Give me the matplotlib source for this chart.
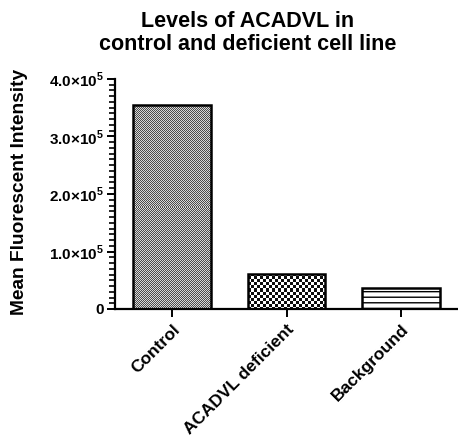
import numpy as np
import matplotlib
matplotlib.use("Agg")
import matplotlib.pyplot as plt
from matplotlib.ticker import MultipleLocator, FuncFormatter

categories = ["Control", "ACADVL deficient", "Background"]
values = [3.55e5, 0.61e5, 0.365e5]
yticks = [0, 1e5, 2e5, 3e5, 4e5]
title = "Levels of ACADVL in\ncontrol and deficient cell line"
ylabel = "Mean Fluorescent Intensity"

plt.rcParams["font.family"] = ["Liberation Sans", "DejaVu Sans"]
plt.rcParams["font.weight"] = "bold"
plt.rcParams["mathtext.fontset"] = "custom"
plt.rcParams["mathtext.rm"] = "Liberation Sans:bold"
plt.rcParams["mathtext.bf"] = "Liberation Sans:bold"
plt.rcParams["hatch.linewidth"] = 1.0

W, H = 458, 443
fig = plt.figure(figsize=(W / 100, H / 100), dpi=100)
ax = fig.add_axes([115 / W, 1 - 309 / H, (W - 115) / W, (309 - 79) / H])

x = np.arange(len(categories))
width = 0.68
bars = ax.bar(x, values, width=width, facecolor="white", edgecolor="black",
              linewidth=1.8, zorder=3)
bars[0].set_facecolor("none")
bars[1].set_facecolor("none")
ax.set_xlim(-0.5, 2.5)
ax.set_ylim(0, 4e5)

# textures
def checker(nx, ny, cell, c1, c2):
    yy, xx = np.mgrid[0:ny, 0:nx]
    m = ((xx // cell + yy // cell) % 2).astype(float)
    img = np.where(m[..., None] > 0, np.array(c1), np.array(c2))
    return img

fig.canvas.draw()
trans = ax.transData
for b, (cell, c1, c2) in zip(bars[:2], [(1, (0.30, 0.30, 0.30), (0.85, 0.85, 0.85)),
                                        (3, (0.05, 0.05, 0.05), (1, 1, 1))]):
    x0, y0 = b.get_x(), b.get_y()
    x1, y1 = x0 + b.get_width(), y0 + b.get_height()
    p0 = trans.transform((x0, y0))
    p1 = trans.transform((x1, y1))
    nx = max(int(round(p1[0] - p0[0])), 1)
    ny = max(int(round(p1[1] - p0[1])), 1)
    img = checker(nx, ny, cell, c1, c2)
    im = ax.imshow(img, extent=(x0, x1, y0, y1), aspect="auto",
                   interpolation="nearest", zorder=2.5)
    im.set_clip_path(b)
ax.set_aspect("auto")
ax.set_xlim(-0.5, 2.5)
ax.set_ylim(0, 4e5)
bars[2].set_hatch("---")

for s in ["top", "right"]:
    ax.spines[s].set_visible(False)
for s in ["left", "bottom"]:
    ax.spines[s].set_linewidth(1.6)

ax.set_xticks(x)
ax.set_xticklabels(categories, rotation=45, ha="right", rotation_mode="anchor",
                   fontsize=12.5, fontweight="bold")
ax.set_yticks(yticks)

def fmt(v, pos):
    if v == 0:
        return "0"
    e = int(np.floor(np.log10(v)))
    return f"{v / 10**e:.1f}×10$^{{{e}}}$"

ax.yaxis.set_major_formatter(FuncFormatter(fmt))
ax.yaxis.set_minor_locator(MultipleLocator(1e4))
ax.tick_params(axis="y", which="major", length=6, width=1.4, labelsize=11, pad=2)
ax.tick_params(axis="y", which="minor", length=4, width=1.2)
ax.tick_params(axis="x", which="major", length=6, width=1.4, pad=3)
for lab in ax.get_yticklabels():
    lab.set_fontweight("bold")

fig.text(20 / W, 1 - 192 / H, ylabel, rotation=90, ha="center", va="center",
         fontsize=13.8, fontweight="bold")
fig.text(248 / W, 1 - 33 / H, title, ha="center", va="center",
         fontsize=15.5, fontweight="bold", linespacing=1.1)

fig.savefig("out.png", dpi=100)
